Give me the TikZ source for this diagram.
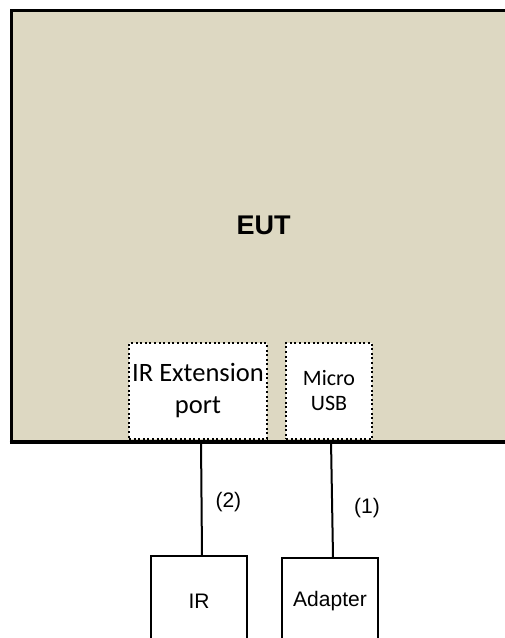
\documentclass[tikz,border=0pt]{standalone}
\usepackage{fontspec}
\setmainfont{Liberation Sans}
\newfontfamily\carlito{Carlito}
\usepackage{tikz}
\usetikzlibrary{positioning}
\definecolor{eutfill}{RGB}{221,216,194}
\tikzset{
  eut/.style   ={rectangle, draw, line width=3pt, fill=eutfill,
                 font=\fontsize{27}{32}\selectfont\bfseries},
  port/.style  ={rectangle, draw, fill=white, line width=2pt,
                 dash pattern=on 2pt off 2.6pt, align=center, inner sep=0pt},
  dev/.style   ={rectangle, draw, line width=2pt, anchor=north,
                 minimum width=96pt, font=\fontsize{21}{25}\selectfont},
  con/.style   ={draw, line width=2pt},
  lbl/.style   ={font=\fontsize{21}{25}\selectfont, inner sep=0pt},
}
\begin{document}
\begin{tikzpicture}[x=1pt,y=-1pt]
\clip (0,0) rectangle (505,638);
\fill[white] (0,0) rectangle (505,638);
\node[eut] (eut) at (263.5,225.75) [minimum width=505pt, minimum height=430.5pt] {EUT};
\node[port, minimum width=138pt, minimum height=96pt,
      font=\carlito\fontsize{26.5}{32}\selectfont] (irport) at (198,391) {IR Extension\\port};
\node[port, minimum width=86pt, minimum height=96pt,
      font=\carlito\fontsize{22}{25}\selectfont] (usb) at (329,391) {Micro\\USB};
\draw[line width=3pt] (eut.south west) -- (eut.south east);
\node[dev, minimum height=90pt] (ir) at (199,555) {IR};
\node[dev, minimum height=86pt] (adapter) at (330,557) {Adapter};
\draw[con] ([xshift=3pt]irport.south) -- node[lbl, right=13pt, pos=0.54] {(2)} ([xshift=3pt]ir.north);
\draw[con] ([xshift=2pt]usb.south) -- node[lbl, right=21pt, pos=0.58] {(1)} ([xshift=3pt]adapter.north);
\end{tikzpicture}
\end{document}
